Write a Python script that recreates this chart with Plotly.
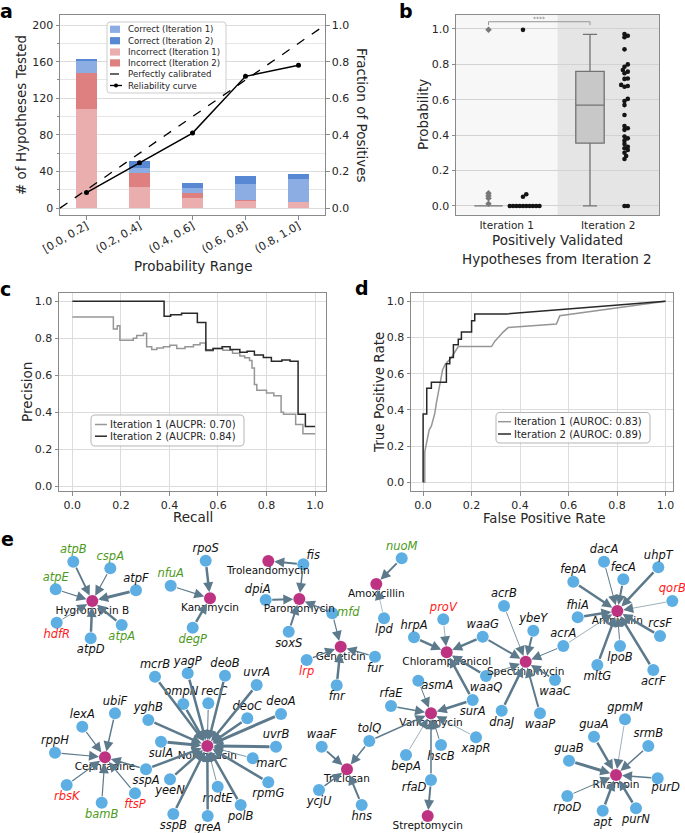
import plotly.graph_objects as go

W, H = 685, 833
FONT = "DejaVu Sans"
TXT = "#262626"


def fx(p):
    return p / W


def fy(p):
    return 1 - p / H


# ---------------- Panel a data ----------------
prob_bins = ["[0.0, 0.2]", "(0.2, 0.4]", "(0.4, 0.6]", "(0.6, 0.8]", "(0.8, 1.0]"]
bin_centers = [0.1, 0.3, 0.5, 0.7, 0.9]
incorrect_iter1 = [108, 23, 11, 8, 7]
incorrect_iter2 = [40, 15, 5, 1, 0]
correct_iter1 = [13, 6, 6, 17, 25]
correct_iter2 = [1, 7, 6, 9, 5]
reliability = [0.085, 0.248, 0.41, 0.72, 0.78]
calibrated = [0.0, 1.0]

# ---------------- Panel b data ----------------
b_categories = ["Iteration 1", "Iteration 2"]
iter1_box_stats = dict(q1=0.0, median=0.0, q3=0.0, low=0.0, high=0.0)
iter2_box_stats = dict(q1=0.355, median=0.57, q3=0.76, low=0.0, high=0.97)
iter1_outliers = [0.995, 0.072, 0.058, 0.043, 0.012]
iter1_points = [0.995, 0.066, 0.052, 0.0, 0.0, 0.0, 0.0, 0.0, 0.0, 0.0, 0.0, 0.0, 0.0]
iter2_points = [0.972, 0.962, 0.953, 0.885, 0.80, 0.787, 0.768, 0.759, 0.75, 0.72,
                0.718, 0.684, 0.678, 0.674, 0.605, 0.593, 0.57, 0.514, 0.452, 0.439,
                0.43, 0.392, 0.382, 0.369, 0.35, 0.335, 0.326, 0.316, 0.301, 0.282,
                0.265, 0.0, 0.0]

# ---------------- Panel c data (precision-recall) ----------------
pr1_recall = [0, 0.169, 0.185, 0.196, 0.251, 0.265, 0.293, 0.306, 0.327, 0.348, 0.375,
              0.402, 0.43, 0.464, 0.499, 0.526, 0.549, 0.58, 0.62, 0.66, 0.69, 0.71,
              0.73, 0.74, 0.75, 0.76, 0.80, 0.83, 0.86, 0.87, 0.92, 0.95, 1.0]
pr1_precision = [0.915, 0.85, 0.868, 0.79, 0.80, 0.815, 0.827, 0.755, 0.74, 0.748, 0.755,
                 0.762, 0.745, 0.755, 0.765, 0.775, 0.733, 0.745, 0.735, 0.72, 0.705, 0.695,
                 0.68, 0.64, 0.55, 0.52, 0.505, 0.49, 0.40, 0.39, 0.335, 0.285, 0.285]
pr2_recall = [0, 0.378, 0.405, 0.45, 0.515, 0.55, 0.58, 0.617, 0.65, 0.69, 0.72, 0.75,
              0.787, 0.82, 0.863, 0.897, 0.93, 0.96, 1.0]
pr2_precision = [1.0, 0.92, 0.928, 0.935, 0.886, 0.737, 0.745, 0.755, 0.74, 0.725, 0.73,
                 0.71, 0.697, 0.676, 0.683, 0.676, 0.39, 0.324, 0.324]

# ---------------- Panel d data (ROC) ----------------
roc1_fpr = [0, 0.007, 0.007, 0.014, 0.021, 0.025, 0.034, 0.041, 0.048, 0.055, 0.062,
            0.066, 0.073, 0.080, 0.090, 0.103, 0.117, 0.131, 0.145, 0.282, 0.296, 0.310,
            0.330, 0.351, 0.399, 0.550, 0.564, 1.0]
roc1_tpr = [0, 0, 0.17, 0.21, 0.25, 0.29, 0.31, 0.34, 0.38, 0.44, 0.49, 0.53, 0.58, 0.62,
            0.65, 0.667, 0.69, 0.72, 0.75, 0.75, 0.78, 0.80, 0.83, 0.855, 0.86, 0.875,
            0.92, 1.0]
roc2_fpr = [0, 0, 0.015, 0.015, 0.034, 0.034, 0.096, 0.096, 0.11, 0.11, 0.125, 0.125,
            0.145, 0.145, 0.158, 0.158, 0.2, 0.2, 0.213, 0.213, 0.344, 1.0]
roc2_tpr = [0, 0.378, 0.378, 0.52, 0.52, 0.553, 0.553, 0.655, 0.655, 0.69, 0.69, 0.76,
            0.76, 0.79, 0.79, 0.83, 0.83, 0.893, 0.893, 0.93, 0.93, 1.0]

# ---------------- Panel e data (network) ----------------
# name, layout x, layout y, kind, label colour, label side
nodes = [
    ("Hygromycin B", 92.3, 601, "drug", "k", "below"),
    ("atpB", 73.3, 561.7, "gene", "g", "above"),
    ("cspA", 110.3, 568.3, "gene", "g", "above"),
    ("atpE", 55.7, 589.3, "gene", "g", "above"),
    ("atpF", 136, 590.3, "gene", "k", "above"),
    ("hdfR", 56.7, 622.7, "gene", "r", "below"),
    ("atpA", 121.7, 625, "gene", "g", "below"),
    ("atpD", 90.7, 638.3, "gene", "k", "below"),
    ("Kanamycin", 210, 598.3, "drug", "k", "below"),
    ("rpoS", 205.7, 560.7, "gene", "k", "above"),
    ("nfuA", 170.7, 585.7, "gene", "g", "above"),
    ("degP", 192.7, 627.7, "gene", "g", "below"),
    ("Troleandomycin", 268.3, 561, "drug", "k", "below"),
    ("fis", 303.3, 564.3, "gene", "k", "above-right"),
    ("Paromomycin", 299.3, 599, "drug", "k", "below"),
    ("dpiA", 265.7, 600, "gene", "k", "above-left"),
    ("soxS", 288.7, 631.7, "gene", "k", "below"),
    ("mfd", 332.3, 613.3, "gene", "g", "right"),
    ("Geneticin", 340.7, 646.7, "drug", "k", "below"),
    ("lrp", 306.7, 660, "gene", "r", "below"),
    ("fur", 375, 656.7, "gene", "k", "below"),
    ("fnr", 336.7, 685.3, "gene", "k", "below"),
    ("Amoxicillin", 376.3, 584, "drug", "k", "below"),
    ("nuoM", 401.7, 558.3, "gene", "g", "above"),
    ("lpd", 384, 618.3, "gene", "k", "below"),
    ("Chloramphenicol", 446.7, 652.3, "drug", "k", "below"),
    ("proV", 443.3, 619.3, "gene", "r", "above"),
    ("hrpA", 414, 637.3, "gene", "k", "above"),
    ("waaG", 482.7, 636.7, "gene", "k", "above"),
    ("waaQ", 486, 676, "gene", "k", "below"),
    ("surA", 472.7, 700, "gene", "k", "below"),
    ("asmA", 418.3, 680.7, "gene", "k", "right-low"),
    ("Spectinomycin", 525.7, 661.7, "drug", "k", "below"),
    ("acrB", 504, 606, "gene", "k", "above"),
    ("ybeY", 533.3, 630.7, "gene", "k", "above"),
    ("acrA", 563.3, 646, "gene", "k", "above"),
    ("waaC", 555, 680, "gene", "k", "below"),
    ("dnaJ", 501.7, 710.7, "gene", "k", "below"),
    ("waaP", 540, 713.3, "gene", "k", "below"),
    ("Ampicillin", 617.3, 611, "drug", "k", "below"),
    ("dacA", 604, 561.7, "gene", "k", "above"),
    ("fecA", 623.3, 579.3, "gene", "k", "above"),
    ("uhpT", 658.3, 567.3, "gene", "k", "above"),
    ("fepA", 573.3, 581.7, "gene", "k", "above"),
    ("qorB", 672.3, 601, "gene", "r", "above"),
    ("fhiA", 577.7, 617.3, "gene", "k", "above"),
    ("rcsF", 660, 636, "gene", "k", "above"),
    ("lpoB", 620, 646, "gene", "k", "below"),
    ("mltG", 597.3, 665, "gene", "k", "below"),
    ("acrF", 653.3, 670, "gene", "k", "below"),
    ("Norfloxacin", 207.3, 746, "drug", "k", "below"),
    ("ompN", 183.3, 704, "gene", "k", "above-l"),
    ("recC", 208.3, 703.3, "gene", "k", "above-r"),
    ("yghB", 148.3, 720, "gene", "k", "above"),
    ("mcrB", 155, 676.7, "gene", "k", "above"),
    ("yagP", 187.7, 673.3, "gene", "k", "above"),
    ("deoB", 225, 675.7, "gene", "k", "above"),
    ("uvrA", 256.7, 685, "gene", "k", "above"),
    ("deoC", 247.3, 718.3, "gene", "k", "above"),
    ("deoA", 281, 714, "gene", "k", "above"),
    ("uvrB", 276, 746.7, "gene", "k", "above"),
    ("marC", 252.7, 758.3, "gene", "k", "right-low"),
    ("rpmG", 268.3, 782.3, "gene", "k", "below"),
    ("polB", 240.7, 805, "gene", "k", "below"),
    ("mdtE", 217.7, 786.7, "gene", "k", "below"),
    ("greA", 207.7, 816, "gene", "k", "below"),
    ("sspB", 173.3, 814, "gene", "k", "below"),
    ("yeeN", 170, 779.3, "gene", "k", "below"),
    ("sspA", 146, 769.3, "gene", "k", "below"),
    ("sulA", 161, 741.7, "gene", "k", "below"),
    ("Cephradine", 105, 757.3, "drug", "k", "below"),
    ("ubiF", 115, 713.3, "gene", "k", "above"),
    ("lexA", 82.3, 726.7, "gene", "k", "above"),
    ("rppH", 55, 752.7, "gene", "k", "above"),
    ("rbsK", 66.7, 785, "gene", "r", "below"),
    ("bamB", 101.7, 802.7, "gene", "g", "below"),
    ("ftsP", 135, 793.3, "gene", "r", "below"),
    ("Vancomycin", 431, 713.3, "drug", "k", "below"),
    ("rfaE", 391, 706, "gene", "k", "above"),
    ("tolQ", 369.3, 741, "gene", "k", "above"),
    ("bepA", 406, 755, "gene", "k", "below"),
    ("hscB", 441, 745, "gene", "k", "below"),
    ("xapR", 476, 737.3, "gene", "k", "below"),
    ("rfaD", 431, 780, "gene", "k", "below-left"),
    ("Streptomycin", 427.7, 816, "drug", "k", "below"),
    ("Triclosan", 347, 769.3, "drug", "k", "below"),
    ("waaF", 321.7, 746.7, "gene", "k", "above"),
    ("ycjU", 319, 790, "gene", "k", "below"),
    ("hns", 361.7, 805, "gene", "k", "below"),
    ("Rifampin", 616, 775, "drug", "k", "below"),
    ("gpmM", 625, 719.3, "gene", "k", "above"),
    ("guaA", 594, 736.7, "gene", "k", "above"),
    ("srmB", 648.3, 746, "gene", "k", "above"),
    ("guaB", 569, 760.7, "gene", "k", "above"),
    ("purD", 657.7, 778.3, "gene", "k", "below-right"),
    ("rpoD", 567.3, 796, "gene", "k", "below"),
    ("apt", 602.7, 810.7, "gene", "k", "below"),
    ("purN", 636, 808.3, "gene", "k", "below"),
]

# source, target, edge weight
edges = [
    ("atpB", "Hygromycin B", 1.8), ("cspA", "Hygromycin B", 1.2), ("atpE", "Hygromycin B", 1.2),
    ("atpF", "Hygromycin B", 3.0), ("hdfR", "Hygromycin B", 0.8), ("atpA", "Hygromycin B", 2.5),
    ("atpD", "Hygromycin B", 2.5),
    ("rpoS", "Kanamycin", 2.5), ("nfuA", "Kanamycin", 1.2), ("degP", "Kanamycin", 2.5),
    ("fis", "Troleandomycin", 2.0), ("fis", "Paromomycin", 1.5), ("dpiA", "Paromomycin", 2.0),
    ("soxS", "Paromomycin", 2.0), ("mfd", "Paromomycin", 1.2), ("mfd", "Geneticin", 1.2),
    ("lrp", "Geneticin", 1.5), ("fur", "Geneticin", 1.2), ("fnr", "Geneticin", 2.5),
    ("nuoM", "Amoxicillin", 2.0), ("lpd", "Amoxicillin", 0.5),
    ("proV", "Chloramphenicol", 0.6), ("hrpA", "Chloramphenicol", 2.5),
    ("waaG", "Chloramphenicol", 2.5), ("waaQ", "Chloramphenicol", 2.5),
    ("surA", "Chloramphenicol", 2.5),
    ("acrB", "Spectinomycin", 0.8), ("waaG", "Spectinomycin", 2.0), ("ybeY", "Spectinomycin", 2.0),
    ("acrA", "Spectinomycin", 1.0), ("waaC", "Spectinomycin", 1.5), ("dnaJ", "Spectinomycin", 2.5),
    ("waaP", "Spectinomycin", 2.0), ("waaQ", "Spectinomycin", 0.8),
    ("acrA", "Ampicillin", 0.6), ("dacA", "Ampicillin", 1.0), ("fecA", "Ampicillin", 2.0),
    ("uhpT", "Ampicillin", 2.5), ("fepA", "Ampicillin", 2.5), ("qorB", "Ampicillin", 0.6),
    ("fhiA", "Ampicillin", 2.5), ("rcsF", "Ampicillin", 2.5), ("lpoB", "Ampicillin", 1.0),
    ("mltG", "Ampicillin", 2.5), ("acrF", "Ampicillin", 2.5),
    ("ompN", "Norfloxacin", 2.5), ("recC", "Norfloxacin", 1.0), ("yghB", "Norfloxacin", 2.5),
    ("mcrB", "Norfloxacin", 2.5), ("yagP", "Norfloxacin", 2.5), ("deoB", "Norfloxacin", 2.5),
    ("uvrA", "Norfloxacin", 2.5), ("deoC", "Norfloxacin", 2.5), ("deoA", "Norfloxacin", 3.0),
    ("uvrB", "Norfloxacin", 3.0), ("marC", "Norfloxacin", 0.8), ("rpmG", "Norfloxacin", 2.5),
    ("polB", "Norfloxacin", 2.5), ("mdtE", "Norfloxacin", 0.8), ("greA", "Norfloxacin", 2.5),
    ("sspB", "Norfloxacin", 2.5), ("yeeN", "Norfloxacin", 2.5), ("sspA", "Norfloxacin", 2.5),
    ("sulA", "Norfloxacin", 3.0),
    ("ubiF", "Cephradine", 1.5), ("lexA", "Cephradine", 1.2), ("rppH", "Cephradine", 1.2),
    ("rbsK", "Cephradine", 1.2), ("bamB", "Cephradine", 1.2), ("ftsP", "Cephradine", 1.2),
    ("sspA", "Cephradine", 1.5),
    ("rfaE", "Vancomycin", 1.5), ("tolQ", "Vancomycin", 1.5), ("bepA", "Vancomycin", 0.6),
    ("hscB", "Vancomycin", 1.0), ("xapR", "Vancomycin", 0.6), ("asmA", "Vancomycin", 1.0),
    ("surA", "Vancomycin", 2.5), ("rfaD", "Vancomycin", 1.5), ("rfaD", "Streptomycin", 2.0),
    ("waaF", "Triclosan", 2.0), ("tolQ", "Triclosan", 1.5), ("ycjU", "Triclosan", 1.5),
    ("hns", "Triclosan", 2.0),
    ("gpmM", "Rifampin", 0.6), ("guaA", "Rifampin", 2.5), ("srmB", "Rifampin", 1.5),
    ("guaB", "Rifampin", 3.0), ("purD", "Rifampin", 1.5), ("rpoD", "Rifampin", 1.0),
    ("apt", "Rifampin", 2.5), ("purN", "Rifampin", 2.5),
]

# ---------------- colours / styles ----------------
C_CORR1 = "rgb(140,172,228)"
C_CORR2 = "rgb(88,135,212)"
C_INC1 = "rgb(234,174,174)"
C_INC2 = "rgb(222,128,128)"
C_GREY = "rgb(150,150,150)"
C_DARK = "rgb(40,40,40)"
GENE_C = "rgb(93,174,226)"
DRUG_C = "rgb(190,50,130)"
EDGE_C = "rgb(92,122,140)"
LABEL_C = {"k": "#111111", "r": "#ff1a1a", "g": "#4c9a1c"}
SPINE = "#8a8a8a"
GRID = "#dcdcdc"
LABEL_OFF = {"above": (0, -11.5), "below": (0, 12), "above-right": (10, -8.5),
             "above-left": (-8, -10), "above-l": (-2, -11.5), "above-r": (6, -11.5),
             "right": (16, 0), "right-low": (19, 5.5),
             "below-right": (8, 10), "below-left": (-17, 8.5)}
DRUG_LABEL_DY = 10.5

fig = go.Figure()

# ---------------- Panel a ----------------
bar_specs = [
    ("Incorrect (Iteration 1)", incorrect_iter1, C_INC1),
    ("Incorrect (Iteration 2)", incorrect_iter2, C_INC2),
    ("Correct (Iteration 1)", correct_iter1, C_CORR1),
    ("Correct (Iteration 2)", correct_iter2, C_CORR2),
]
for name, vals, col in bar_specs:
    fig.add_trace(go.Bar(x=bin_centers, y=vals, width=0.08, name=name, marker_color=col,
                         marker_line_width=0, xaxis="x", yaxis="y", showlegend=False))
fig.add_trace(go.Scatter(x=calibrated, y=calibrated, mode="lines", name="Perfectly calibrated",
                         line=dict(color="black", width=1.3, dash="dash"), xaxis="x", yaxis="y2",
                         showlegend=False))
fig.add_trace(go.Scatter(x=bin_centers, y=reliability, mode="lines+markers", name="Reliability curve",
                         line=dict(color="black", width=1.5), marker=dict(size=5, color="black"),
                         xaxis="x", yaxis="y2", showlegend=False))

# ---------------- Panel b ----------------
B_XPX = 101.5   # px per x unit
B_YPX = 177.0   # px per y unit
BOX_OFF = 0.18
STRIP_OFF = 0.16


def swarm(values, d_px):
    placed = []
    offs = [0.0] * len(values)
    order = sorted(range(len(values)), key=lambda i: values[i])
    for i in order:
        ypx = values[i] * B_YPX
        k = 0
        while True:
            cands = [0.0] if k == 0 else [k * d_px, -k * d_px]
            ok_c = None
            for c in cands:
                if all((c - px) ** 2 + (ypx - py) ** 2 >= d_px ** 2 - 1e-9 for px, py in placed):
                    ok_c = c
                    break
            if ok_c is not None:
                placed.append((ok_c, ypx))
                offs[i] = ok_c / B_XPX
                break
            k += 0.5
    return offs


for idx, stats in enumerate([iter1_box_stats, iter2_box_stats]):
    fig.add_trace(go.Box(x=[idx - BOX_OFF], q1=[stats["q1"]], median=[stats["median"]],
                         q3=[stats["q3"]], lowerfence=[stats["low"]], upperfence=[stats["high"]],
                         width=0.28, whiskerwidth=0.5, fillcolor="rgb(200,200,200)",
                         line=dict(color="rgb(115,115,115)", width=1.3), boxpoints=False,
                         showlegend=False, xaxis="x2", yaxis="y3", hoverinfo="skip"))
fig.add_trace(go.Scatter(x=[0 - BOX_OFF] * len(iter1_outliers), y=iter1_outliers, mode="markers",
                         marker=dict(symbol="diamond", size=5, color="rgb(120,120,120)"),
                         showlegend=False, xaxis="x2", yaxis="y3"))
for idx, pts in enumerate([iter1_points, iter2_points]):
    offs = swarm(pts, 3.3)
    fig.add_trace(go.Scatter(x=[idx + STRIP_OFF + o for o in offs], y=pts, mode="markers",
                             marker=dict(size=4.6, color="rgb(20,20,20)"), showlegend=False,
                             xaxis="x2", yaxis="y3"))
br_y, br_tick = 1.041, 1.022
fig.add_trace(go.Scatter(x=[-BOX_OFF, -BOX_OFF, 1 - BOX_OFF, 1 - BOX_OFF],
                         y=[br_tick, br_y, br_y, br_tick], mode="lines",
                         line=dict(color="rgb(150,150,150)", width=1), showlegend=False,
                         xaxis="x2", yaxis="y3", hoverinfo="skip"))

# ---------------- Panel c ----------------
pr_names = ["Iteration 1 (AUCPR: 0.70)", "Iteration 2 (AUCPR: 0.84)"]
fig.add_trace(go.Scatter(x=pr1_recall, y=pr1_precision, mode="lines", line_shape="hv",
                         name=pr_names[0], line=dict(color=C_GREY, width=1.5),
                         xaxis="x3", yaxis="y4", showlegend=False))
fig.add_trace(go.Scatter(x=pr2_recall, y=pr2_precision, mode="lines", line_shape="hv",
                         name=pr_names[1], line=dict(color=C_DARK, width=1.5),
                         xaxis="x3", yaxis="y4", showlegend=False))

# ---------------- Panel d ----------------
roc_names = ["Iteration 1 (AUROC: 0.83)", "Iteration 2 (AUROC: 0.89)"]
fig.add_trace(go.Scatter(x=roc1_fpr, y=roc1_tpr, mode="lines", name=roc_names[0],
                         line=dict(color=C_GREY, width=1.5), xaxis="x4", yaxis="y5",
                         showlegend=False))
fig.add_trace(go.Scatter(x=roc2_fpr, y=roc2_tpr, mode="lines", name=roc_names[1],
                         line=dict(color=C_DARK, width=1.5), xaxis="x4", yaxis="y5",
                         showlegend=False))

# ---------------- Panel e ----------------
pos = {n[0]: (n[1], n[2]) for n in nodes}
annotations = []
for s, t, w in edges:
    (x0, y0), (x1, y1) = pos[s], pos[t]
    annotations.append(dict(x=x1, y=y1, ax=x0, ay=y0, xref="x5", yref="y6", axref="x5",
                            ayref="y6", text="", showarrow=True, arrowhead=2,
                            arrowsize=max(0.6, 2.0 / w), arrowwidth=w, arrowcolor=EDGE_C,
                            standoff=6, startstandoff=5))

for kind in ["gene", "drug"]:
    sub = [n for n in nodes if n[3] == kind]
    fig.add_trace(go.Scatter(
        x=[n[1] for n in sub], y=[n[2] for n in sub], mode="markers",
        marker=dict(size=12, color=GENE_C if kind == "gene" else DRUG_C, line_width=0),
        showlegend=False, xaxis="x5", yaxis="y6", text=[n[0] for n in sub], hoverinfo="text"))
    if kind == "gene":
        offs = [LABEL_OFF[n[5]] for n in sub]
        texts = ["<i>%s</i>" % n[0] for n in sub]
        tsize = 11.5
    else:
        offs = [(0, DRUG_LABEL_DY) for n in sub]
        texts = [n[0] for n in sub]
        tsize = 10.5
    fig.add_trace(go.Scatter(
        x=[n[1] + o[0] for n, o in zip(sub, offs)], y=[n[2] + o[1] for n, o in zip(sub, offs)],
        mode="text", text=texts, textposition="middle center",
        textfont=dict(family=FONT, size=tsize, color=[LABEL_C[n[4]] for n in sub]),
        showlegend=False, xaxis="x5", yaxis="y6", hoverinfo="skip"))

# ---------------- manual legends ----------------
shapes = [
    dict(type="rect", xref="x2", yref="y3 domain", x0=-0.5, x1=0.5, y0=0, y1=1,
         fillcolor="rgb(247,247,247)", line_width=0, layer="below"),
    dict(type="rect", xref="x2", yref="y3 domain", x0=0.5, x1=1.5, y0=0, y1=1,
         fillcolor="rgb(229,229,229)", line_width=0, layer="below"),
]


def rounded_box(x0, y0, x1, y1, r=3, color="#cccccc"):
    X = lambda v: "%.5f" % fx(v)
    Y = lambda v: "%.5f" % fy(v)
    path = ("M {a},{b} L {c},{b} Q {d},{b} {d},{e} L {d},{f} Q {d},{g} {c},{g} "
            "L {a},{g} Q {h},{g} {h},{f} L {h},{e} Q {h},{b} {a},{b} Z").format(
        a=X(x0 + r), b=Y(y0), c=X(x1 - r), d=X(x1), e=Y(y0 + r), f=Y(y1 - r), g=Y(y1), h=X(x0))
    shapes.append(dict(type="path", xref="paper", yref="paper", path=path,
                       fillcolor="rgba(255,255,255,0.85)", line=dict(color=color, width=1)))


def paper_text(x, y, text, size, anchor="left", angle=0, color=TXT, bold=False):
    annotations.append(dict(text=("<b>%s</b>" % text) if bold else text, x=fx(x), y=fy(y),
                            xref="paper", yref="paper", xanchor=anchor, yanchor="middle",
                            showarrow=False, textangle=angle,
                            font=dict(family=FONT, size=size, color=color)))


def legend_line(x0, x1, y, color, width, dash="solid"):
    shapes.append(dict(type="line", xref="paper", yref="paper", x0=fx(x0), x1=fx(x1),
                       y0=fy(y), y1=fy(y), line=dict(color=color, width=width, dash=dash)))


# legend a
rounded_box(107, 22, 226, 93)
leg_a_rows = [29.3, 40.7, 52.0, 62.9, 74.0, 85.5]
leg_a_items = [("Correct (Iteration 1)", C_CORR1), ("Correct (Iteration 2)", C_CORR2),
               ("Incorrect (Iteration 1)", C_INC1), ("Incorrect (Iteration 2)", C_INC2)]
for (label, col), yy in zip(leg_a_items, leg_a_rows[:4]):
    shapes.append(dict(type="rect", xref="paper", yref="paper", x0=fx(110), x1=fx(120),
                       y0=fy(yy + 3.6), y1=fy(yy - 3.6), fillcolor=col, line_width=0))
    paper_text(126, yy, label, 8.6)
legend_line(110, 122, leg_a_rows[4], "black", 1.2, "dash")
paper_text(126, leg_a_rows[4], "Perfectly calibrated", 8.6)
legend_line(110, 122, leg_a_rows[5], "black", 1.3)
shapes.append(dict(type="circle", xref="paper", yref="paper", x0=fx(114), x1=fx(118),
                   y0=fy(leg_a_rows[5] + 2), y1=fy(leg_a_rows[5] - 2), fillcolor="black",
                   line_width=0))
paper_text(126, leg_a_rows[5], "Reliability curve", 8.6)

# legend c
rounded_box(91, 415, 244, 446, r=4, color="#b5b5b5")
for name, col, yy in zip(pr_names, [C_GREY, C_DARK], [424.5, 436.2]):
    legend_line(95, 107, yy, col, 1.5)
    paper_text(107.5, yy, name, 10)
# legend d
rounded_box(496, 412.5, 650, 443, r=4, color="#b5b5b5")
for name, col, yy in zip(roc_names, [C_GREY, C_DARK], [421.7, 434.0]):
    legend_line(498, 511, yy, col, 1.5)
    paper_text(511.5, yy, name, 10)

# ---------------- panel letters & axis titles ----------------
for letter, (lx, ly) in {"a": (6, 11), "b": (406, 11), "c": (5, 289), "d": (362, 288),
                         "e": (7, 539)}.items():
    paper_text(lx, ly, letter, 19, anchor="center", color="black", bold=True)

TS = 13.5
paper_text(21, 115, "# of Hypotheses Tested", TS, anchor="center", angle=-90)
paper_text(193, 266, "Probability Range", TS, anchor="center")
paper_text(362, 115, "Fraction of Positives", TS, anchor="center", angle=90)
paper_text(423, 115, "Probability", TS, anchor="center", angle=-90)
paper_text(557, 240, "Positively Validated", TS, anchor="center")
paper_text(557, 259, "Hypotheses from Iteration 2", TS, anchor="center")
paper_text(27, 392, "Precision", TS, anchor="center", angle=-90)
paper_text(193, 516.5, "Recall", TS, anchor="center")
paper_text(379, 392, "True Positive Rate", TS, anchor="center", angle=-90)
paper_text(544, 518.5, "False Positive Rate", 13.2, anchor="center")

annotations.append(dict(text="****", x=(-BOX_OFF + 1 - BOX_OFF) / 2, y=1.058, xref="x2", yref="y3",
                        xanchor="center", yanchor="middle", showarrow=False,
                        font=dict(size=6, color="rgb(120,120,120)", family=FONT)))

tickfont = dict(family=FONT, size=11, color=TXT)


def axis(**kw):
    base = dict(showline=True, linecolor=SPINE, linewidth=1, mirror=True, ticks="outside",
                ticklen=3.5, tickcolor=SPINE, tickfont=tickfont, zeroline=False,
                gridcolor=GRID, gridwidth=1, automargin=False)
    base.update(kw)
    return base


TV = [0, 0.2, 0.4, 0.6, 0.8, 1.0]
layout = dict(
    width=W, height=H, margin=dict(l=0, r=0, t=0, b=0, autoexpand=False),
    paper_bgcolor="white", plot_bgcolor="white", barmode="stack", bargap=0,
    font=dict(family=FONT, color=TXT), showlegend=False,
    # panel a
    xaxis=axis(domain=[fx(60), fx(325)], range=[0, 1], tickvals=bin_centers, ticktext=prob_bins,
               tickangle=-30, showgrid=False, anchor="y", ticklabelstandoff=-4),
    yaxis=axis(domain=[fy(215), fy(15)], range=[-7.5, 211], tickvals=[0, 40, 80, 120, 160, 200],
               anchor="x", showgrid=True, mirror=False,
               minor=dict(dtick=20, tick0=0, ticks="outside", ticklen=2, tickcolor=SPINE,
                          showgrid=True, gridcolor="#e6e6e6")),
    yaxis2=axis(overlaying="y", side="right", anchor="x", range=[-0.0375, 1.055],
                tickvals=TV, tickformat=".1f", showgrid=False, mirror=False),
    # panel b
    xaxis2=axis(domain=[fx(456), fx(659)], range=[-0.5, 1.5], tickvals=[0, 1],
                ticktext=b_categories, showgrid=False, anchor="y3", ticks="",
                tickfont=dict(family=FONT, size=10.5, color=TXT)),
    yaxis3=axis(domain=[fy(215), fy(15)], range=[-0.051, 1.079], tickvals=TV,
                tickformat=".1f", anchor="x2", showgrid=True, gridcolor="#d2d2d2"),
    # panel c
    xaxis3=axis(domain=[fx(59), fx(326)], range=[-0.055, 1.045], tickvals=TV,
                tickformat=".1f", anchor="y4", showgrid=True),
    yaxis4=axis(domain=[fy(491), fy(293)], range=[-0.025, 1.045], tickvals=TV,
                tickformat=".1f", anchor="x3", showgrid=True),
    # panel d
    xaxis4=axis(domain=[fx(411), fx(673)], range=[-0.05, 1.031], tickvals=TV,
                tickformat=".1f", anchor="y5", showgrid=True),
    yaxis5=axis(domain=[fy(491), fy(293)], range=[-0.048, 1.046], tickvals=TV,
                tickformat=".1f", anchor="x4", showgrid=True),
    # panel e
    xaxis5=dict(domain=[0, 1], range=[0, W], visible=False, anchor="y6", fixedrange=True,
                automargin=False),
    yaxis6=dict(domain=[0, fy(530)], range=[H, 530], visible=False, anchor="x5", fixedrange=True,
                automargin=False),
    annotations=annotations,
    shapes=shapes,
)
fig.update_layout(**layout)
fig.write_html("out.html", config={"displayModeBar": False},
               post_script="document.body.style.margin='0px';document.body.style.overflow='hidden';")
